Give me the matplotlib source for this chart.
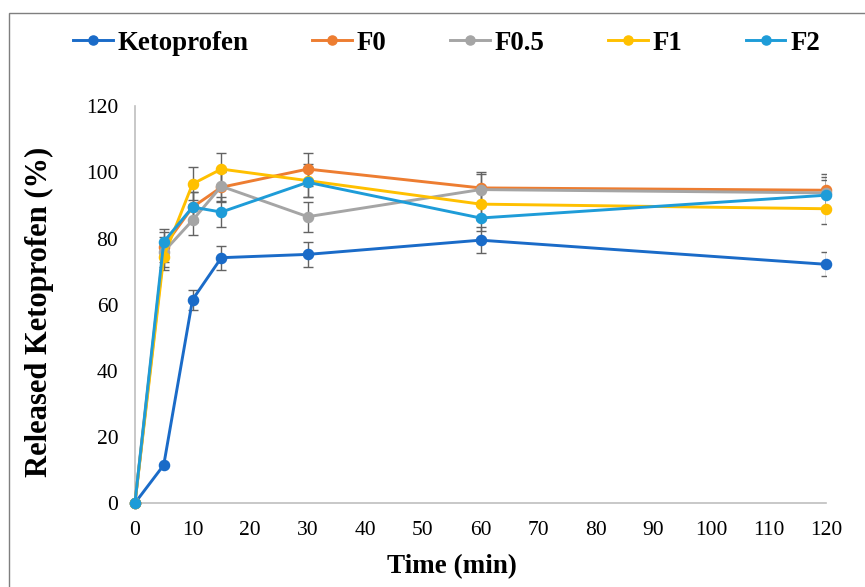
import matplotlib
matplotlib.use("Agg")
import matplotlib.pyplot as plt
from matplotlib.patches import Rectangle

time = [0, 5, 10, 15, 30, 60, 120]
series_names = ["Ketoprofen", "F0", "F0.5", "F1", "F2"]
keto = [0, 11.5, 61.5, 74.2, 75.2, 79.5, 72.2]
f0 = [0, 77.5, 89.5, 95.5, 101.0, 95.3, 94.6]
f05 = [0, 76.0, 85.5, 95.8, 86.6, 94.8, 93.8]
f1 = [0, 74.5, 96.5, 101.0, 97.5, 90.4, 89.0]
f2 = [0, 79.0, 89.5, 88.0, 97.0, 86.2, 93.1]

keto_err = [0, 0, 3.0, 3.6, 3.7, 4.0, 3.6]
f0_err = [0, 4.5, 4.5, 4.5, 5.0, 4.8, 5.0]
f05_err = [0, 4.5, 4.5, 4.5, 4.5, 4.8, 4.8]
f1_err = [0, 4.0, 5.0, 5.0, 5.0, 4.8, 4.7]
f2_err = [0, 4.0, 4.5, 4.5, 4.5, 4.0, 4.5]

colors = ["#1A6BC8", "#ED7D31", "#A5A5A5", "#FFC000", "#1E9CD8"]
all_vals = [keto, f0, f05, f1, f2]
all_errs = [keto_err, f0_err, f05_err, f1_err, f2_err]

xticks = list(range(0, 121, 10))
yticks = list(range(0, 121, 20))

plt.rcParams['font.family'] = ['Liberation Serif', 'DejaVu Serif']

fig = plt.figure(figsize=(8.65, 5.87), dpi=100)
ax = fig.add_axes([0.156, 0.143, 0.799, 0.676])

# figure frame (top-left visible)
fig.add_artist(Rectangle((9/865, -0.05), 1.2, (587-13)/587 + 0.05, transform=fig.transFigure,
                         fill=False, edgecolor="#7F7F7F", linewidth=1.0))

for name, vals, errs, c in zip(series_names, all_vals, all_errs, colors):
    ax.errorbar(time, vals, yerr=errs, fmt='none', ecolor="#636363", elinewidth=1.0,
                capsize=3.3, capthick=1.0, zorder=2)
for name, vals, errs, c in zip(series_names, all_vals, all_errs, colors):
    ax.plot(time, vals, color=c, linewidth=2.1, marker='o', markersize=7.3,
            label=name, zorder=3, clip_on=False)

ax.set_xlim(0, 120)
ax.set_ylim(0, 120)
ax.set_xticks(xticks)
ax.set_yticks(yticks)
ax.tick_params(axis='x', length=0, labelsize=15.5, pad=13)
ax.tick_params(axis='y', length=0, labelsize=15.5, pad=12)
for s in ['top', 'right']:
    ax.spines[s].set_visible(False)
for s in ['left', 'bottom']:
    ax.spines[s].set_color("#BFBFBF")
    ax.spines[s].set_linewidth(1.2)

ax.set_xlabel("Time (min)", fontsize=19.5, fontweight='bold')
ax.set_ylabel("Released Ketoprofen (%)", fontsize=22, fontweight='bold')
ax.xaxis.set_label_coords(0.459, (503 - 567) / 397)
ax.xaxis.label.set_va('center')
ax.yaxis.set_label_coords((40 - 135) / 691, (503 - 312) / 397)
ax.yaxis.label.set_va('center')

leg = fig.legend(loc='center left', bbox_to_anchor=(73/865, 1 - 43/587), ncol=5, frameon=False,
                 prop={'size': 19.4, 'weight': 'bold'}, handlelength=1.48, handletextpad=0.18,
                 columnspacing=2.35, markerscale=0.9, borderpad=0, borderaxespad=0)

fig.savefig("out.png", dpi=100)
